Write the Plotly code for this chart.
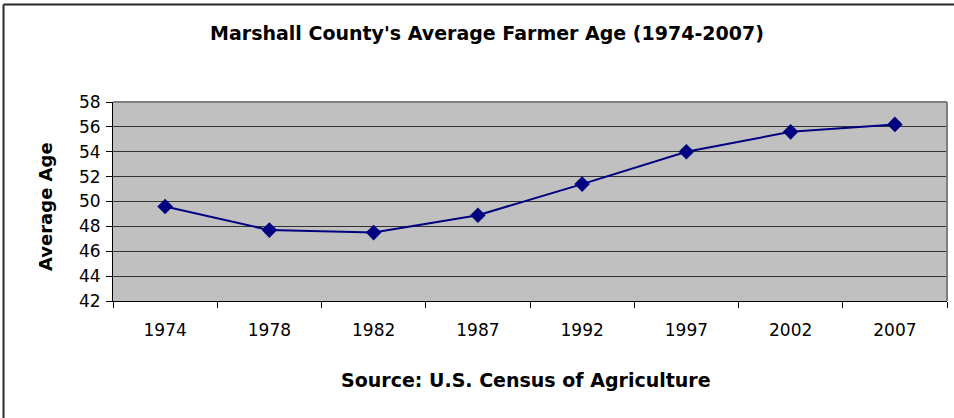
import plotly.graph_objects as go

years = ["1974", "1978", "1982", "1987", "1992", "1997", "2002", "2007"]
avg_age = [49.6, 47.7, 47.5, 48.9, 51.4, 54.0, 55.6, 56.2]
y_ticks = [42, 44, 46, 48, 50, 52, 54, 56, 58]

W, H = 954, 418
L, R, T, B = 113, 7, 102, 117
pw = W - L - R
ph = H - T - B

fig = go.Figure()
fig.add_trace(go.Scatter(
    x=years, y=avg_age, mode="lines+markers",
    line=dict(color="#000080", width=2),
    marker=dict(symbol="diamond", size=12, color="#000080"),
    hoverinfo="x+y",
))

font_family = "DejaVu Sans, Arial, sans-serif"

fig.update_layout(
    width=W, height=H,
    margin=dict(l=L, r=R, t=T, b=B),
    paper_bgcolor="white",
    plot_bgcolor="#C0C0C0",
    showlegend=False,
    font=dict(family=font_family, color="black", size=17),
    title=dict(
        text="<b>Marshall County's Average Farmer Age (1974-2007)</b>",
        x=487 / W, xref="container", xanchor="center",
        y=1 - 33 / H, yref="container", yanchor="middle",
        font=dict(size=19, family=font_family, color="black"),
    ),
    xaxis=dict(
        type="category",
        range=[-0.5, len(years) - 0.5],
        tickson="boundaries",
        ticks="outside", ticklen=6, tickcolor="black", tickwidth=1,
        showline=True, linecolor="black", linewidth=1,
        showgrid=False, zeroline=False,
        ticklabelstandoff=14,
        tickfont=dict(size=17),
    ),
    yaxis=dict(
        range=[42, 58],
        tickvals=y_ticks,
        ticks="outside", ticklen=6, tickcolor="black", tickwidth=1,
        showline=True, linecolor="black", linewidth=1,
        showgrid=True, gridcolor="#333333", gridwidth=1,
        zeroline=False,
        ticklabelstandoff=2,
        tickfont=dict(size=17),
    ),
    annotations=[
        dict(text="<b>Average Age</b>", textangle=-90,
             xref="paper", yref="paper",
             x=(45 - L) / pw, y=(H - B - 207) / ph,
             xanchor="center", yanchor="middle", showarrow=False,
             font=dict(size=18, family=font_family, color="black")),
        dict(text="<b>Source: U.S. Census of Agriculture</b>",
             xref="paper", yref="paper",
             x=(526 - L) / pw, y=(H - B - 380) / ph,
             xanchor="center", yanchor="middle", showarrow=False,
             font=dict(size=19, family=font_family, color="black")),
    ],
    shapes=[
        # plot area top / right border (gray)
        dict(type="line", xref="paper", yref="paper", x0=0, x1=1, y0=1, y1=1,
             line=dict(color="#808080", width=2)),
        dict(type="line", xref="paper", yref="paper", x0=1, x1=1, y0=0, y1=1,
             line=dict(color="#808080", width=2)),
        # outer chart frame (top and left edges visible)
        dict(type="line", xref="paper", yref="paper",
             x0=(3.5 - L) / pw, x1=(W - L) / pw,
             y0=(H - B - 4.5) / ph, y1=(H - B - 4.5) / ph,
             line=dict(color="#2a2a2a", width=2)),
        dict(type="line", xref="paper", yref="paper",
             x0=(3.5 - L) / pw, x1=(3.5 - L) / pw,
             y0=(H - B - 4.5) / ph, y1=(H - B - H) / ph,
             line=dict(color="#2a2a2a", width=2)),
    ],
)

fig.write_html(
    "out.html",
    config={"displayModeBar": False},
    post_script="document.body.style.margin='0';document.body.style.overflow='hidden';",
)
